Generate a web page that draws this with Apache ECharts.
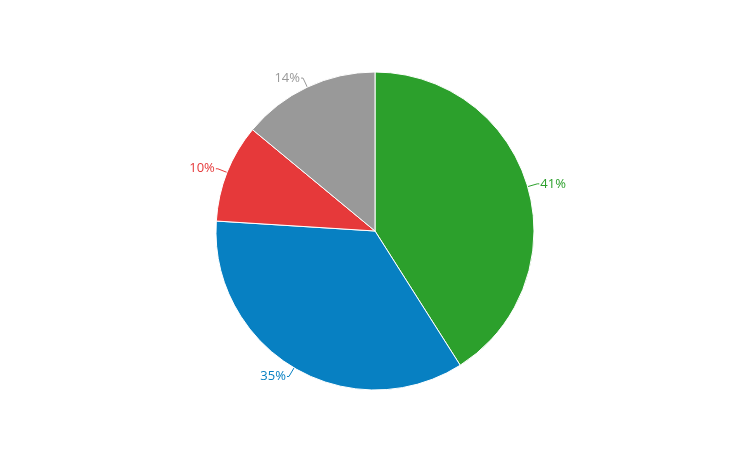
<!DOCTYPE html>
<html>
<head>
<meta charset="utf-8">
<script src="https://cdn.jsdelivr.net/npm/echarts@6/dist/echarts.min.js"></script>
<style>
  html, body { margin: 0; padding: 0; background: #fff; }
  #chart { width: 750px; height: 462px; }
</style>
</head>
<body>
<div id="chart"></div>
<script>
const labels = ['41%', '35%', '10%', '14%']
const values = [41, 35, 10, 14]
const colors = ['#2ca02c', '#0780c2', '#e6393a', '#999999']

const chart = echarts.init(document.getElementById('chart'))

chart.setOption({
  animation: false,
  series: [
    {
      type: 'pie',
      center: [375, 231],
      radius: 159,
      startAngle: 90,
      clockwise: true,
      data: values.map((v, i) => ({
        value: v,
        name: labels[i],
        itemStyle: { color: colors[i] },
        label: { color: colors[i] },
        labelLine: { lineStyle: { color: colors[i] } },
      })),
      itemStyle: { borderColor: '#fff', borderWidth: 1 },
      label: {
        formatter: '{b}',
        fontFamily: 'Open Sans',
        fontSize: 13,
        distanceToLabelLine: 1,
        padding: [0, 0, 7, 0],
      },
      labelLine: { length: 10, length2: 2, lineStyle: { width: 1 } },
    },
  ],
})
</script>
</body>
</html>
